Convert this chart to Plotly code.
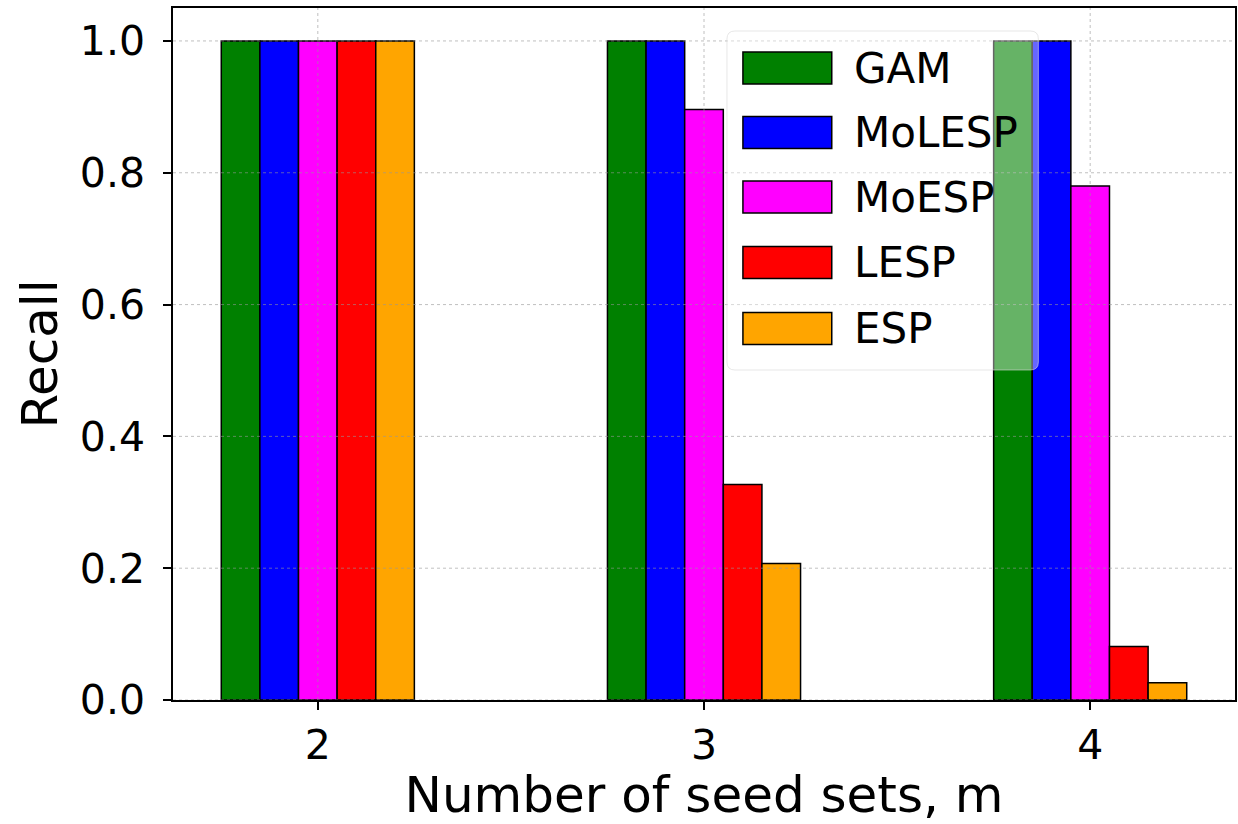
import plotly.graph_objects as go

# ---- data ----
seed_sets = [2, 3, 4]
methods = ["GAM", "MoLESP", "MoESP", "LESP", "ESP"]
gam = [1.0, 1.0, 1.0]
molesp = [1.0, 1.0, 1.0]
moesp = [1.0, 0.896, 0.78]
lesp = [1.0, 0.327, 0.081]
esp = [1.0, 0.207, 0.026]
colors = ["#008000", "#0000ff", "#ff00ff", "#ff0000", "#ffa500"]
y_ticks = [0.0, 0.2, 0.4, 0.6, 0.8, 1.0]

series = [gam, molesp, moesp, lesp, esp]
FONT = "DejaVu Sans"

fig = go.Figure()
for name, vals, c in zip(methods, series, colors):
    fig.add_trace(go.Bar(x=seed_sets, y=vals, name=name, marker=dict(color=c, line=dict(color="black", width=1.5)),
                         showlegend=False))

W, H = 1238, 824
L, R, T, B = 173, 1, 8, 124
pw, ph = W - L - R, H - T - B

def px_x(x):
    return (x - L) / pw

def px_y(y):
    return (H - B - y) / ph

shapes = []
# grid lines drawn above bars (matplotlib style)
for yv in y_ticks:
    shapes.append(dict(type="line", xref="paper", yref="y", x0=0, x1=1, y0=yv, y1=yv,
                       line=dict(color="rgba(150,150,150,0.6)", width=1, dash="dot"), layer="above"))
for xv in seed_sets:
    shapes.append(dict(type="line", xref="x", yref="paper", x0=xv, x1=xv, y0=0, y1=1,
                       line=dict(color="rgba(150,150,150,0.6)", width=1, dash="dot"), layer="above"))

# legend box (rounded)
x0, x1, y0, y1, r = px_x(728), px_x(1040), px_y(370), px_y(31), 8
rx, ry = r / pw, r / ph
path = (f"M {x0+rx},{y0} L {x1-rx},{y0} Q {x1},{y0} {x1},{y0+ry} L {x1},{y1-ry} Q {x1},{y1} {x1-rx},{y1} "
        f"L {x0+rx},{y1} Q {x0},{y1} {x0},{y1-ry} L {x0},{y0+ry} Q {x0},{y0} {x0+rx},{y0} Z")
shapes.append(dict(type="path", xref="paper", yref="paper", path=path,
                   fillcolor="rgba(255,255,255,0.4)", line=dict(color="rgba(215,215,215,0.6)", width=1), layer="above"))
centers = [68, 132.5, 197, 262.5, 328.5]
annotations = []
for name, c, cy in zip(methods, colors, centers):
    shapes.append(dict(type="rect", xref="paper", yref="paper", x0=px_x(744), x1=px_x(833),
                       y0=px_y(cy + 16), y1=px_y(cy - 16), fillcolor=c, line=dict(color="black", width=1.5),
                       layer="above"))
    annotations.append(dict(xref="paper", yref="paper", x=px_x(853), y=px_y(cy), text=name, showarrow=False,
                            xanchor="left", yanchor="middle", font=dict(family=FONT, size=42, color="black")))

fig.update_layout(
    width=W, height=H,
    margin=dict(l=L, r=R, t=T, b=B),
    paper_bgcolor="white", plot_bgcolor="white",
    barmode="group", bargap=0.5, bargroupgap=0,
    font=dict(family=FONT, color="black"),
    shapes=shapes, annotations=annotations,
    showlegend=False,
)
fig.update_xaxes(range=[1.625, 4.375], tickvals=seed_sets, ticktext=[str(v) for v in seed_sets],
                 showgrid=False, zeroline=False, showline=True, linecolor="black", linewidth=1.5, mirror=True,
                 ticks="outside", ticklen=8, tickwidth=1.5, tickcolor="black",
                 tickfont=dict(size=41, family=FONT), ticklabelstandoff=0,
                 title=dict(text="Number of seed sets, m", font=dict(size=50, family=FONT), standoff=6))
fig.update_yaxes(range=[0, 1.05], tickvals=y_ticks, ticktext=[f"{v:.1f}" for v in y_ticks],
                 showgrid=False, zeroline=False, showline=True, linecolor="black", linewidth=1.5, mirror=True,
                 ticks="outside", ticklen=8, tickwidth=1.5, tickcolor="black",
                 tickfont=dict(size=41, family=FONT), ticklabelstandoff=10,
                 title=dict(text="Recall", font=dict(size=50, family=FONT), standoff=6))

fig.write_html("out.html")
